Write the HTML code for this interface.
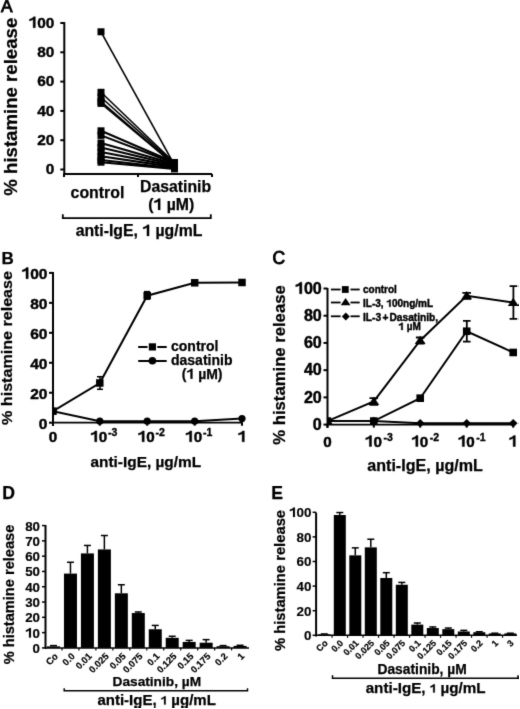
<!DOCTYPE html>
<html><head><meta charset="utf-8"><style>
html,body{margin:0;padding:0;background:#fff;}
svg{display:block;will-change:transform;}
text{font-family:"Liberation Sans", sans-serif;font-weight:bold;}
</style></head><body>
<svg width="520" height="709" viewBox="0 0 520 709" stroke="#000" fill="#000">
<defs><filter id="bl" x="0" y="0" width="1" height="1"><feConvolveMatrix order="3" kernelMatrix="0.01134 0.08382 0.01134 0.08382 0.61935 0.08382 0.01134 0.08382 0.01134" divisor="1" edgeMode="duplicate" preserveAlpha="false"/></filter></defs>
<g filter="url(#bl)">
<text x="1.00" y="12.10" font-size="17.3" text-anchor="start" stroke-width="0.9" style="font-weight:normal">A</text>
<text transform="translate(17.00,106.70) rotate(-90)" x="0" y="0" font-size="18.6" text-anchor="middle" stroke-width="0.25" textLength="178.00" lengthAdjust="spacingAndGlyphs">% histamine release</text>
<line x1="64.30" y1="22.10" x2="64.30" y2="175.00" stroke-width="2"/>
<line x1="60.30" y1="169.50" x2="64.30" y2="169.50" stroke-width="2"/>
<text x="45.84" y="174.30" font-size="15.4" stroke-width="0.4">0</text>
<line x1="60.30" y1="140.20" x2="64.30" y2="140.20" stroke-width="2"/>
<text x="37.28" y="145.00" font-size="15.4" stroke-width="0.4">20</text>
<line x1="60.30" y1="110.90" x2="64.30" y2="110.90" stroke-width="2"/>
<text x="37.28" y="115.70" font-size="15.4" stroke-width="0.4">40</text>
<line x1="60.30" y1="81.60" x2="64.30" y2="81.60" stroke-width="2"/>
<text x="37.28" y="86.40" font-size="15.4" stroke-width="0.4">60</text>
<line x1="60.30" y1="52.30" x2="64.30" y2="52.30" stroke-width="2"/>
<text x="37.28" y="57.10" font-size="15.4" stroke-width="0.4">80</text>
<line x1="60.30" y1="23.00" x2="64.30" y2="23.00" stroke-width="2"/>
<path d="M0.43,0 L0.43,-0.716 L0.318,-0.716 C0.285,-0.645 0.175,-0.58 0.05,-0.558 L0.05,-0.445 C0.14,-0.46 0.225,-0.49 0.288,-0.535 L0.288,0 Z" transform="translate(28.71,27.80) scale(15.4,15.4)" stroke-width="0.0260"/>
<text x="37.28" y="27.80" font-size="15.4" stroke-width="0.4">00</text>
<line x1="63.30" y1="174.00" x2="212.00" y2="174.00" stroke-width="2"/>
<line x1="64.00" y1="174.00" x2="64.00" y2="177.00" stroke-width="2"/>
<line x1="138.00" y1="174.00" x2="138.00" y2="177.00" stroke-width="2"/>
<line x1="212.00" y1="174.00" x2="212.00" y2="177.00" stroke-width="2"/>
<line x1="101.00" y1="31.79" x2="174.50" y2="165.10" stroke-width="1.6"/>
<line x1="101.00" y1="92.29" x2="174.50" y2="162.76" stroke-width="1.6"/>
<line x1="101.00" y1="97.28" x2="174.50" y2="163.64" stroke-width="1.6"/>
<line x1="101.00" y1="101.52" x2="174.50" y2="164.52" stroke-width="1.6"/>
<line x1="101.00" y1="103.43" x2="174.50" y2="164.81" stroke-width="1.6"/>
<line x1="101.00" y1="130.82" x2="174.50" y2="162.47" stroke-width="2.1"/>
<line x1="101.00" y1="135.37" x2="174.50" y2="163.20" stroke-width="2.1"/>
<line x1="101.00" y1="142.98" x2="174.50" y2="164.08" stroke-width="2.1"/>
<line x1="101.00" y1="147.53" x2="174.50" y2="165.10" stroke-width="2.1"/>
<line x1="101.00" y1="151.92" x2="174.50" y2="166.13" stroke-width="2.1"/>
<line x1="101.00" y1="156.31" x2="174.50" y2="167.16" stroke-width="2.1"/>
<line x1="101.00" y1="159.98" x2="174.50" y2="168.18" stroke-width="2.1"/>
<line x1="101.00" y1="162.18" x2="174.50" y2="168.91" stroke-width="2.1"/>
<rect x="97.50" y="28.29" width="7.00" height="7.00" stroke="none"/>
<rect x="97.50" y="88.79" width="7.00" height="7.00" stroke="none"/>
<rect x="97.50" y="93.78" width="7.00" height="7.00" stroke="none"/>
<rect x="97.50" y="98.02" width="7.00" height="7.00" stroke="none"/>
<rect x="97.50" y="99.93" width="7.00" height="7.00" stroke="none"/>
<rect x="97.50" y="127.32" width="7.00" height="7.00" stroke="none"/>
<rect x="97.50" y="131.87" width="7.00" height="7.00" stroke="none"/>
<rect x="97.50" y="139.48" width="7.00" height="7.00" stroke="none"/>
<rect x="97.50" y="144.03" width="7.00" height="7.00" stroke="none"/>
<rect x="97.50" y="148.42" width="7.00" height="7.00" stroke="none"/>
<rect x="97.50" y="152.81" width="7.00" height="7.00" stroke="none"/>
<rect x="97.50" y="156.48" width="7.00" height="7.00" stroke="none"/>
<rect x="97.50" y="158.68" width="7.00" height="7.00" stroke="none"/>
<rect x="171.00" y="161.60" width="7.00" height="7.00" stroke="none"/>
<rect x="171.00" y="159.26" width="7.00" height="7.00" stroke="none"/>
<rect x="171.00" y="160.14" width="7.00" height="7.00" stroke="none"/>
<rect x="171.00" y="161.02" width="7.00" height="7.00" stroke="none"/>
<rect x="171.00" y="161.31" width="7.00" height="7.00" stroke="none"/>
<rect x="171.00" y="158.97" width="7.00" height="7.00" stroke="none"/>
<rect x="171.00" y="159.70" width="7.00" height="7.00" stroke="none"/>
<rect x="171.00" y="160.58" width="7.00" height="7.00" stroke="none"/>
<rect x="171.00" y="161.60" width="7.00" height="7.00" stroke="none"/>
<rect x="171.00" y="162.63" width="7.00" height="7.00" stroke="none"/>
<rect x="171.00" y="163.66" width="7.00" height="7.00" stroke="none"/>
<rect x="171.00" y="164.68" width="7.00" height="7.00" stroke="none"/>
<rect x="171.00" y="165.41" width="7.00" height="7.00" stroke="none"/>
<text x="97.50" y="198.00" font-size="15.9" text-anchor="middle" stroke-width="0.25" >control</text>
<text x="175.60" y="191.90" font-size="15.8" text-anchor="middle" stroke-width="0.25" >Dasatinib</text>
<text x="148.22" y="209.90" stroke-width="0.25"><tspan font-size="15.8">(  µM)</tspan></text>
<path d="M0.43,0 L0.43,-0.716 L0.318,-0.716 C0.285,-0.645 0.175,-0.58 0.05,-0.558 L0.05,-0.445 C0.14,-0.46 0.225,-0.49 0.288,-0.535 L0.288,0 Z" transform="translate(153.48,209.90) scale(15.8)" stroke-width="0.0158"/>
<polyline points="62.80,214.30 62.80,218.10 210.80,218.10 210.80,214.30" fill="none" stroke-width="1.8"/>
<text x="75.63" y="236.00" stroke-width="0.25"><tspan font-size="15.8">anti-IgE,   µg/mL</tspan></text>
<path d="M0.43,0 L0.43,-0.716 L0.318,-0.716 C0.285,-0.645 0.175,-0.58 0.05,-0.558 L0.05,-0.445 C0.14,-0.46 0.225,-0.49 0.288,-0.535 L0.288,0 Z" transform="translate(142.34,236.00) scale(15.8)" stroke-width="0.0158"/>
<text x="1.50" y="264.00" font-size="17" text-anchor="start" stroke-width="0.25" >B</text>
<text transform="translate(11.90,348.00) rotate(-90)" x="0" y="0" font-size="15.4" text-anchor="middle" stroke-width="0.25" textLength="153.90" lengthAdjust="spacingAndGlyphs">% histamine release</text>
<line x1="53.00" y1="272.00" x2="53.00" y2="426.00" stroke-width="2"/>
<line x1="49.00" y1="422.70" x2="53.00" y2="422.70" stroke-width="2"/>
<text x="38.78" y="428.50" font-size="15.5" stroke-width="0.45">0</text>
<line x1="49.00" y1="392.74" x2="53.00" y2="392.74" stroke-width="2"/>
<text x="30.16" y="398.54" font-size="15.5" stroke-width="0.45">20</text>
<line x1="49.00" y1="362.78" x2="53.00" y2="362.78" stroke-width="2"/>
<text x="30.16" y="368.58" font-size="15.5" stroke-width="0.45">40</text>
<line x1="49.00" y1="332.82" x2="53.00" y2="332.82" stroke-width="2"/>
<text x="30.16" y="338.62" font-size="15.5" stroke-width="0.45">60</text>
<line x1="49.00" y1="302.86" x2="53.00" y2="302.86" stroke-width="2"/>
<text x="30.16" y="308.66" font-size="15.5" stroke-width="0.45">80</text>
<line x1="49.00" y1="272.90" x2="53.00" y2="272.90" stroke-width="2"/>
<path d="M0.43,0 L0.43,-0.716 L0.318,-0.716 C0.285,-0.645 0.175,-0.58 0.05,-0.558 L0.05,-0.445 C0.14,-0.46 0.225,-0.49 0.288,-0.535 L0.288,0 Z" transform="translate(21.55,278.70) scale(15.5,15.5)" stroke-width="0.0290"/>
<text x="30.16" y="278.70" font-size="15.5" stroke-width="0.45">00</text>
<line x1="52.00" y1="422.70" x2="242.80" y2="422.70" stroke-width="1.8"/>
<line x1="53.00" y1="422.70" x2="53.00" y2="425.70" stroke-width="2"/>
<line x1="99.80" y1="422.70" x2="99.80" y2="425.70" stroke-width="2"/>
<line x1="147.20" y1="422.70" x2="147.20" y2="425.70" stroke-width="2"/>
<line x1="194.70" y1="422.70" x2="194.70" y2="425.70" stroke-width="2"/>
<line x1="242.00" y1="422.70" x2="242.00" y2="425.70" stroke-width="2"/>
<text x="53.00" y="441.80" font-size="15.2" text-anchor="middle" stroke-width="0.45" >0</text>
<path d="M0.43,0 L0.43,-0.716 L0.318,-0.716 C0.285,-0.645 0.175,-0.58 0.05,-0.558 L0.05,-0.445 C0.14,-0.46 0.225,-0.49 0.288,-0.535 L0.288,0 Z" transform="translate(90.30,441.80) scale(15.2,15.2)" stroke-width="0.0296"/>
<text x="98.75" y="441.80" font-size="15.2" stroke-width="0.45">0</text>
<text x="108.10" y="436.20" font-size="10.5" text-anchor="start" stroke-width="0.35" >-3</text>
<path d="M0.43,0 L0.43,-0.716 L0.318,-0.716 C0.285,-0.645 0.175,-0.58 0.05,-0.558 L0.05,-0.445 C0.14,-0.46 0.225,-0.49 0.288,-0.535 L0.288,0 Z" transform="translate(137.70,441.80) scale(15.2,15.2)" stroke-width="0.0296"/>
<text x="146.15" y="441.80" font-size="15.2" stroke-width="0.45">0</text>
<text x="155.50" y="436.20" font-size="10.5" text-anchor="start" stroke-width="0.35" >-2</text>
<path d="M0.43,0 L0.43,-0.716 L0.318,-0.716 C0.285,-0.645 0.175,-0.58 0.05,-0.558 L0.05,-0.445 C0.14,-0.46 0.225,-0.49 0.288,-0.535 L0.288,0 Z" transform="translate(185.20,441.80) scale(15.2,15.2)" stroke-width="0.0296"/>
<text x="193.65" y="441.80" font-size="15.2" stroke-width="0.45">0</text>
<text x="203.00" y="436.20" font-size="10.5" text-anchor="start" stroke-width="0.35" >-1</text>
<path d="M0.43,0 L0.43,-0.716 L0.318,-0.716 C0.285,-0.645 0.175,-0.58 0.05,-0.558 L0.05,-0.445 C0.14,-0.46 0.225,-0.49 0.288,-0.535 L0.288,0 Z" transform="translate(237.77,441.80) scale(15.2,15.2)" stroke-width="0.0296"/>
<clipPath id="clipB"><rect x="53" y="250" width="200" height="200"/></clipPath>
<g clip-path="url(#clipB)">
<polyline points="53.00,411.17 99.80,383.00 147.20,295.67 194.70,282.79 242.00,282.49" fill="none" stroke-width="2"/>
<polyline points="53.00,411.17 99.80,421.20 147.20,421.20 194.70,421.20 242.00,418.51" fill="none" stroke-width="2"/>
<line x1="100.00" y1="376.71" x2="100.00" y2="389.29" stroke-width="1.5"/>
<line x1="97.00" y1="376.71" x2="103.00" y2="376.71" stroke-width="1.5"/>
<line x1="97.00" y1="389.29" x2="103.00" y2="389.29" stroke-width="1.5"/>
<line x1="147.00" y1="291.62" x2="147.00" y2="299.12" stroke-width="1.5"/>
<line x1="144.00" y1="291.62" x2="150.00" y2="291.62" stroke-width="1.5"/>
<line x1="144.00" y1="299.12" x2="150.00" y2="299.12" stroke-width="1.5"/>
<rect x="49.25" y="407.42" width="7.50" height="7.50" stroke="none"/>
<rect x="96.05" y="379.25" width="7.50" height="7.50" stroke="none"/>
<rect x="143.45" y="291.92" width="7.50" height="7.50" stroke="none"/>
<rect x="190.95" y="279.04" width="7.50" height="7.50" stroke="none"/>
<rect x="238.25" y="278.74" width="7.50" height="7.50" stroke="none"/>
<circle cx="53.00" cy="411.17" r="3.6" stroke="none"/>
<circle cx="99.80" cy="421.20" r="3.6" stroke="none"/>
<circle cx="147.20" cy="421.20" r="3.6" stroke="none"/>
<circle cx="194.70" cy="421.20" r="3.6" stroke="none"/>
<circle cx="242.00" cy="418.51" r="3.6" stroke="none"/>
</g>
<line x1="138.20" y1="347.00" x2="147.50" y2="347.00" stroke-width="2"/>
<line x1="157.30" y1="347.00" x2="166.70" y2="347.00" stroke-width="2"/>
<rect x="148.80" y="343.30" width="7.20" height="7.20" stroke="none"/>
<line x1="138.20" y1="361.00" x2="166.70" y2="361.00" stroke-width="2"/>
<circle cx="152.40" cy="360.80" r="3.8" stroke="none"/>
<text x="171.00" y="350.70" font-size="14.0" text-anchor="start" stroke-width="0.25" >control</text>
<text x="171.00" y="365.30" font-size="14.0" text-anchor="start" stroke-width="0.25" >dasatinib</text>
<text x="181.80" y="378.80" stroke-width="0.25"><tspan font-size="14.0">(  µM)</tspan></text>
<path d="M0.43,0 L0.43,-0.716 L0.318,-0.716 C0.285,-0.645 0.175,-0.58 0.05,-0.558 L0.05,-0.445 C0.14,-0.46 0.225,-0.49 0.288,-0.535 L0.288,0 Z" transform="translate(186.46,378.80) scale(14.0)" stroke-width="0.0179"/>
<text x="145.80" y="466.60" font-size="15.4" text-anchor="middle" stroke-width="0.25" >anti-IgE, µg/mL</text>
<text x="272.60" y="263.70" font-size="17.5" text-anchor="start" stroke-width="0.9" style="font-weight:normal">C</text>
<text transform="translate(284.80,365.00) rotate(-90)" x="0" y="0" font-size="16.3" text-anchor="middle" stroke-width="0.25" textLength="159.40" lengthAdjust="spacingAndGlyphs">% histamine release</text>
<line x1="327.50" y1="288.00" x2="327.50" y2="428.00" stroke-width="2"/>
<line x1="323.50" y1="424.60" x2="327.50" y2="424.60" stroke-width="2"/>
<text x="312.85" y="429.90" font-size="16.1" stroke-width="0.45">0</text>
<line x1="323.50" y1="397.38" x2="327.50" y2="397.38" stroke-width="2"/>
<text x="303.90" y="402.68" font-size="16.1" stroke-width="0.45">20</text>
<line x1="323.50" y1="370.16" x2="327.50" y2="370.16" stroke-width="2"/>
<text x="303.90" y="375.46" font-size="16.1" stroke-width="0.45">40</text>
<line x1="323.50" y1="342.94" x2="327.50" y2="342.94" stroke-width="2"/>
<text x="303.90" y="348.24" font-size="16.1" stroke-width="0.45">60</text>
<line x1="323.50" y1="315.72" x2="327.50" y2="315.72" stroke-width="2"/>
<text x="303.90" y="321.02" font-size="16.1" stroke-width="0.45">80</text>
<line x1="323.50" y1="288.50" x2="327.50" y2="288.50" stroke-width="2"/>
<path d="M0.43,0 L0.43,-0.716 L0.318,-0.716 C0.285,-0.645 0.175,-0.58 0.05,-0.558 L0.05,-0.445 C0.14,-0.46 0.225,-0.49 0.288,-0.535 L0.288,0 Z" transform="translate(294.95,293.80) scale(16.1,16.1)" stroke-width="0.0280"/>
<text x="303.90" y="293.80" font-size="16.1" stroke-width="0.45">00</text>
<line x1="326.50" y1="424.60" x2="514.20" y2="424.60" stroke-width="1.7"/>
<line x1="327.40" y1="424.60" x2="327.40" y2="427.60" stroke-width="2"/>
<line x1="373.80" y1="424.60" x2="373.80" y2="427.60" stroke-width="2"/>
<line x1="420.20" y1="424.60" x2="420.20" y2="427.60" stroke-width="2"/>
<line x1="466.70" y1="424.60" x2="466.70" y2="427.60" stroke-width="2"/>
<line x1="513.20" y1="424.60" x2="513.20" y2="427.60" stroke-width="2"/>
<text x="327.50" y="446.50" font-size="15.2" text-anchor="middle" stroke-width="0.45" >0</text>
<path d="M0.43,0 L0.43,-0.716 L0.318,-0.716 C0.285,-0.645 0.175,-0.58 0.05,-0.558 L0.05,-0.445 C0.14,-0.46 0.225,-0.49 0.288,-0.535 L0.288,0 Z" transform="translate(365.00,446.50) scale(15.2,15.2)" stroke-width="0.0296"/>
<text x="373.45" y="446.50" font-size="15.2" stroke-width="0.45">0</text>
<text x="383.40" y="440.50" font-size="10.5" text-anchor="start" stroke-width="0.35" >-3</text>
<path d="M0.43,0 L0.43,-0.716 L0.318,-0.716 C0.285,-0.645 0.175,-0.58 0.05,-0.558 L0.05,-0.445 C0.14,-0.46 0.225,-0.49 0.288,-0.535 L0.288,0 Z" transform="translate(411.40,446.50) scale(15.2,15.2)" stroke-width="0.0296"/>
<text x="419.85" y="446.50" font-size="15.2" stroke-width="0.45">0</text>
<text x="429.80" y="440.50" font-size="10.5" text-anchor="start" stroke-width="0.35" >-2</text>
<path d="M0.43,0 L0.43,-0.716 L0.318,-0.716 C0.285,-0.645 0.175,-0.58 0.05,-0.558 L0.05,-0.445 C0.14,-0.46 0.225,-0.49 0.288,-0.535 L0.288,0 Z" transform="translate(457.90,446.50) scale(15.2,15.2)" stroke-width="0.0296"/>
<text x="466.35" y="446.50" font-size="15.2" stroke-width="0.45">0</text>
<text x="476.30" y="440.50" font-size="10.5" text-anchor="start" stroke-width="0.35" >-1</text>
<path d="M0.43,0 L0.43,-0.716 L0.318,-0.716 C0.285,-0.645 0.175,-0.58 0.05,-0.558 L0.05,-0.445 C0.14,-0.46 0.225,-0.49 0.288,-0.535 L0.288,0 Z" transform="translate(508.77,446.50) scale(15.2,15.2)" stroke-width="0.0296"/>
<clipPath id="clipC"><rect x="327.5" y="250" width="200" height="200"/></clipPath>
<g clip-path="url(#clipC)">
<polyline points="327.40,421.06 373.80,421.06 420.20,423.24 466.70,423.24 513.20,423.24" fill="none" stroke-width="2"/>
<polyline points="327.40,421.06 373.80,421.06 420.20,398.20 466.70,331.24 513.20,352.47" fill="none" stroke-width="2"/>
<polyline points="327.40,421.06 373.80,401.46 420.20,340.49 466.70,295.85 513.20,302.52" fill="none" stroke-width="2"/>
<line x1="466.80" y1="320.89" x2="466.80" y2="341.58" stroke-width="1.8"/>
<line x1="463.00" y1="320.89" x2="470.60" y2="320.89" stroke-width="1.8"/>
<line x1="463.00" y1="341.58" x2="470.60" y2="341.58" stroke-width="1.8"/>
<line x1="513.40" y1="286.19" x2="513.40" y2="318.85" stroke-width="1.8"/>
<line x1="509.60" y1="286.19" x2="517.20" y2="286.19" stroke-width="1.8"/>
<line x1="509.60" y1="318.85" x2="517.20" y2="318.85" stroke-width="1.8"/>
<line x1="373.80" y1="398.20" x2="373.80" y2="404.73" stroke-width="1.8"/>
<line x1="369.50" y1="398.20" x2="378.10" y2="398.20" stroke-width="1.8"/>
<line x1="369.50" y1="404.73" x2="378.10" y2="404.73" stroke-width="1.8"/>
<line x1="420.20" y1="337.50" x2="420.20" y2="343.48" stroke-width="1.8"/>
<line x1="415.90" y1="337.50" x2="424.50" y2="337.50" stroke-width="1.8"/>
<line x1="415.90" y1="343.48" x2="424.50" y2="343.48" stroke-width="1.8"/>
<line x1="466.70" y1="292.86" x2="466.70" y2="298.84" stroke-width="1.8"/>
<line x1="462.40" y1="292.86" x2="471.00" y2="292.86" stroke-width="1.8"/>
<line x1="462.40" y1="298.84" x2="471.00" y2="298.84" stroke-width="1.8"/>
<polygon points="327.40,416.76 331.70,421.06 327.40,425.36 323.10,421.06" stroke="none"/>
<polygon points="373.80,416.76 378.10,421.06 373.80,425.36 369.50,421.06" stroke="none"/>
<polygon points="420.20,418.94 424.50,423.24 420.20,427.54 415.90,423.24" stroke="none"/>
<polygon points="466.70,418.94 471.00,423.24 466.70,427.54 462.40,423.24" stroke="none"/>
<polygon points="513.20,418.94 517.50,423.24 513.20,427.54 508.90,423.24" stroke="none"/>
<rect x="323.60" y="417.26" width="7.60" height="7.60" stroke="none"/>
<rect x="370.00" y="417.26" width="7.60" height="7.60" stroke="none"/>
<rect x="416.40" y="394.40" width="7.60" height="7.60" stroke="none"/>
<rect x="462.90" y="327.44" width="7.60" height="7.60" stroke="none"/>
<rect x="509.40" y="348.67" width="7.60" height="7.60" stroke="none"/>
<polygon points="327.40,416.30 332.80,424.51 322.00,424.51" stroke="none"/>
<polygon points="373.80,396.70 379.20,404.91 368.40,404.91" stroke="none"/>
<polygon points="420.20,335.73 425.60,343.94 414.80,343.94" stroke="none"/>
<polygon points="466.70,291.09 472.10,299.30 461.30,299.30" stroke="none"/>
<polygon points="513.20,297.76 518.60,305.97 507.80,305.97" stroke="none"/>
</g>
<line x1="330.90" y1="289.50" x2="340.60" y2="289.50" stroke-width="1.8"/>
<line x1="350.50" y1="289.50" x2="359.70" y2="289.50" stroke-width="1.8"/>
<line x1="330.90" y1="302.50" x2="340.60" y2="302.50" stroke-width="1.8"/>
<line x1="350.50" y1="302.50" x2="359.70" y2="302.50" stroke-width="1.8"/>
<line x1="330.90" y1="316.30" x2="340.60" y2="316.30" stroke-width="1.8"/>
<line x1="350.50" y1="316.30" x2="359.70" y2="316.30" stroke-width="1.8"/>
<rect x="341.90" y="286.10" width="6.80" height="6.80" stroke="none"/>
<polygon points="345.60,297.88 350.50,305.33 340.70,305.33" stroke="none"/>
<polygon points="345.80,312.40 349.80,316.40 345.80,320.40 341.80,316.40" stroke="none"/>
<text x="363.00" y="292.80" font-size="10" text-anchor="start" stroke-width="0.4" >control</text>
<text x="363.00" y="306.80" stroke-width="0.4"><tspan font-size="10">IL-3,  00ng/mL</tspan></text>
<path d="M0.43,0 L0.43,-0.716 L0.318,-0.716 C0.285,-0.645 0.175,-0.58 0.05,-0.558 L0.05,-0.445 C0.14,-0.46 0.225,-0.49 0.288,-0.535 L0.288,0 Z" transform="translate(386.33,306.80) scale(10)" stroke-width="0.0400"/>
<text x="363.00" y="320.60" font-size="10.2" text-anchor="start" stroke-width="0.4" >IL-3<tspan dx="1.3">+</tspan><tspan dx="1.1">Dasatinib,</tspan></text>
<text x="398.40" y="330.00" stroke-width="0.4"><tspan font-size="10">  µM</tspan></text>
<path d="M0.43,0 L0.43,-0.716 L0.318,-0.716 C0.285,-0.645 0.175,-0.58 0.05,-0.558 L0.05,-0.445 C0.14,-0.46 0.225,-0.49 0.288,-0.535 L0.288,0 Z" transform="translate(398.40,330.00) scale(10)" stroke-width="0.0400"/>
<text x="425.10" y="470.60" font-size="16.1" text-anchor="middle" stroke-width="0.25" >anti-IgE, µg/mL</text>
<text x="2.30" y="498.60" font-size="17.6" text-anchor="start" stroke-width="0.25" >D</text>
<text transform="translate(13.90,594.50) rotate(-90)" x="0" y="0" font-size="14.6" text-anchor="middle" stroke-width="0.25" textLength="139.70" lengthAdjust="spacingAndGlyphs">% histamine release</text>
<line x1="45.50" y1="525.00" x2="45.50" y2="649.00" stroke-width="2"/>
<line x1="42.00" y1="647.90" x2="45.50" y2="647.90" stroke-width="1.5"/>
<text x="32.61" y="652.90" font-size="13.3" stroke-width="0.2">0</text>
<line x1="42.00" y1="632.61" x2="45.50" y2="632.61" stroke-width="1.5"/>
<path d="M0.43,0 L0.43,-0.716 L0.318,-0.716 C0.285,-0.645 0.175,-0.58 0.05,-0.558 L0.05,-0.445 C0.14,-0.46 0.225,-0.49 0.288,-0.535 L0.288,0 Z" transform="translate(25.21,637.61) scale(13.3,13.3)" stroke-width="0.0150"/>
<text x="32.61" y="637.61" font-size="13.3" stroke-width="0.2">0</text>
<line x1="42.00" y1="617.32" x2="45.50" y2="617.32" stroke-width="1.5"/>
<text x="25.21" y="622.32" font-size="13.3" stroke-width="0.2">20</text>
<line x1="42.00" y1="602.03" x2="45.50" y2="602.03" stroke-width="1.5"/>
<text x="25.21" y="607.03" font-size="13.3" stroke-width="0.2">30</text>
<line x1="42.00" y1="586.74" x2="45.50" y2="586.74" stroke-width="1.5"/>
<text x="25.21" y="591.74" font-size="13.3" stroke-width="0.2">40</text>
<line x1="42.00" y1="571.45" x2="45.50" y2="571.45" stroke-width="1.5"/>
<text x="25.21" y="576.45" font-size="13.3" stroke-width="0.2">50</text>
<line x1="42.00" y1="556.16" x2="45.50" y2="556.16" stroke-width="1.5"/>
<text x="25.21" y="561.16" font-size="13.3" stroke-width="0.2">60</text>
<line x1="42.00" y1="540.87" x2="45.50" y2="540.87" stroke-width="1.5"/>
<text x="25.21" y="545.87" font-size="13.3" stroke-width="0.2">70</text>
<line x1="42.00" y1="525.58" x2="45.50" y2="525.58" stroke-width="1.5"/>
<text x="25.21" y="530.58" font-size="13.3" stroke-width="0.2">80</text>
<line x1="45.50" y1="647.90" x2="249.00" y2="647.90" stroke-width="1.5"/>
<rect x="47.00" y="646.37" width="13.00" height="1.53" stroke="none"/>
<line x1="53.50" y1="645.61" x2="53.50" y2="646.37" stroke-width="1.5"/>
<line x1="50.00" y1="645.61" x2="57.00" y2="645.61" stroke-width="1.5"/>
<text transform="translate(58.50,656.90) rotate(-45)" font-size="9.4" text-anchor="end" stroke-width="0.2" style="font-weight:bold">Co</text>
<line x1="61.98" y1="647.90" x2="61.98" y2="650.40" stroke-width="1.2"/>
<rect x="63.96" y="573.59" width="13.00" height="74.31" stroke="none"/>
<line x1="70.46" y1="562.28" x2="70.46" y2="573.59" stroke-width="1.5"/>
<line x1="66.96" y1="562.28" x2="73.96" y2="562.28" stroke-width="1.5"/>
<text transform="translate(75.46,656.90) rotate(-45)" font-size="9.4" text-anchor="end" stroke-width="0.2" style="font-weight:bold">0.0</text>
<line x1="78.94" y1="647.90" x2="78.94" y2="650.40" stroke-width="1.2"/>
<rect x="80.92" y="553.41" width="13.00" height="94.49" stroke="none"/>
<line x1="87.42" y1="545.46" x2="87.42" y2="553.41" stroke-width="1.5"/>
<line x1="83.92" y1="545.46" x2="90.92" y2="545.46" stroke-width="1.5"/>
<text transform="translate(92.42,656.90) rotate(-45)" font-size="9.4" text-anchor="end" stroke-width="0.2" style="font-weight:bold">0.01</text>
<line x1="95.90" y1="647.90" x2="95.90" y2="650.40" stroke-width="1.2"/>
<rect x="97.88" y="549.43" width="13.00" height="98.47" stroke="none"/>
<line x1="104.38" y1="535.52" x2="104.38" y2="549.43" stroke-width="1.5"/>
<line x1="100.88" y1="535.52" x2="107.88" y2="535.52" stroke-width="1.5"/>
<text transform="translate(109.38,656.90) rotate(-45)" font-size="9.4" text-anchor="end" stroke-width="0.2" style="font-weight:bold">0.025</text>
<line x1="112.86" y1="647.90" x2="112.86" y2="650.40" stroke-width="1.2"/>
<rect x="114.84" y="593.31" width="13.00" height="54.59" stroke="none"/>
<line x1="121.34" y1="584.75" x2="121.34" y2="593.31" stroke-width="1.5"/>
<line x1="117.84" y1="584.75" x2="124.84" y2="584.75" stroke-width="1.5"/>
<text transform="translate(126.34,656.90) rotate(-45)" font-size="9.4" text-anchor="end" stroke-width="0.2" style="font-weight:bold">0.05</text>
<line x1="129.82" y1="647.90" x2="129.82" y2="650.40" stroke-width="1.2"/>
<rect x="131.80" y="613.04" width="13.00" height="34.86" stroke="none"/>
<line x1="138.30" y1="611.97" x2="138.30" y2="613.04" stroke-width="1.5"/>
<line x1="134.80" y1="611.97" x2="141.80" y2="611.97" stroke-width="1.5"/>
<text transform="translate(143.30,656.90) rotate(-45)" font-size="9.4" text-anchor="end" stroke-width="0.2" style="font-weight:bold">0.075</text>
<line x1="146.78" y1="647.90" x2="146.78" y2="650.40" stroke-width="1.2"/>
<rect x="148.76" y="629.25" width="13.00" height="18.65" stroke="none"/>
<line x1="155.26" y1="625.42" x2="155.26" y2="629.25" stroke-width="1.5"/>
<line x1="151.76" y1="625.42" x2="158.76" y2="625.42" stroke-width="1.5"/>
<text transform="translate(160.26,656.90) rotate(-45)" font-size="9.4" text-anchor="end" stroke-width="0.2" style="font-weight:bold">0.1</text>
<line x1="163.74" y1="647.90" x2="163.74" y2="650.40" stroke-width="1.2"/>
<rect x="165.72" y="637.81" width="13.00" height="10.09" stroke="none"/>
<line x1="172.22" y1="636.28" x2="172.22" y2="637.81" stroke-width="1.5"/>
<line x1="168.72" y1="636.28" x2="175.72" y2="636.28" stroke-width="1.5"/>
<text transform="translate(177.22,656.90) rotate(-45)" font-size="9.4" text-anchor="end" stroke-width="0.2" style="font-weight:bold">0.125</text>
<line x1="180.70" y1="647.90" x2="180.70" y2="650.40" stroke-width="1.2"/>
<rect x="182.68" y="641.94" width="13.00" height="5.96" stroke="none"/>
<line x1="189.18" y1="640.41" x2="189.18" y2="641.94" stroke-width="1.5"/>
<line x1="185.68" y1="640.41" x2="192.68" y2="640.41" stroke-width="1.5"/>
<text transform="translate(194.18,656.90) rotate(-45)" font-size="9.4" text-anchor="end" stroke-width="0.2" style="font-weight:bold">0.15</text>
<line x1="197.66" y1="647.90" x2="197.66" y2="650.40" stroke-width="1.2"/>
<rect x="199.64" y="642.70" width="13.00" height="5.20" stroke="none"/>
<line x1="206.14" y1="639.64" x2="206.14" y2="642.70" stroke-width="1.5"/>
<line x1="202.64" y1="639.64" x2="209.64" y2="639.64" stroke-width="1.5"/>
<text transform="translate(211.14,656.90) rotate(-45)" font-size="9.4" text-anchor="end" stroke-width="0.2" style="font-weight:bold">0.175</text>
<line x1="214.62" y1="647.90" x2="214.62" y2="650.40" stroke-width="1.2"/>
<rect x="216.60" y="646.22" width="13.00" height="1.68" stroke="none"/>
<line x1="223.10" y1="645.61" x2="223.10" y2="646.22" stroke-width="1.5"/>
<line x1="219.60" y1="645.61" x2="226.60" y2="645.61" stroke-width="1.5"/>
<text transform="translate(228.10,656.90) rotate(-45)" font-size="9.4" text-anchor="end" stroke-width="0.2" style="font-weight:bold">0.2</text>
<line x1="231.58" y1="647.90" x2="231.58" y2="650.40" stroke-width="1.2"/>
<rect x="233.56" y="645.91" width="13.00" height="1.99" stroke="none"/>
<line x1="240.06" y1="645.30" x2="240.06" y2="645.91" stroke-width="1.5"/>
<line x1="236.56" y1="645.30" x2="243.56" y2="645.30" stroke-width="1.5"/>
<text transform="translate(245.06,656.90) rotate(-45)" font-size="9.4" text-anchor="end" stroke-width="0.2" style="font-weight:bold">1</text>
<polyline points="64.20,688.30 64.20,690.80 247.50,690.80 247.50,688.30" fill="none" stroke-width="1.5"/>
<text x="156.80" y="686.00" font-size="13.7" text-anchor="middle" stroke-width="0.25" >Dasatinib, µM</text>
<text x="97.42" y="704.50" stroke-width="0.25"><tspan font-size="15">anti-IgE, </tspan><tspan font-size="11.5"> </tspan><tspan font-size="15"> µg/mL</tspan></text>
<path d="M0.43,0 L0.43,-0.716 L0.318,-0.716 C0.285,-0.645 0.175,-0.58 0.05,-0.558 L0.05,-0.445 C0.14,-0.46 0.225,-0.49 0.288,-0.535 L0.288,0 Z" transform="translate(160.75,704.50) scale(11.5)" stroke-width="0.0217"/>
<text x="271.30" y="498.80" font-size="17.6" text-anchor="start" stroke-width="0.25" >E</text>
<text transform="translate(284.90,580.50) rotate(-90)" x="0" y="0" font-size="14.7" text-anchor="middle" stroke-width="0.25" textLength="141.10" lengthAdjust="spacingAndGlyphs">% histamine release</text>
<line x1="316.10" y1="512.50" x2="316.10" y2="636.50" stroke-width="2"/>
<line x1="312.60" y1="635.30" x2="316.10" y2="635.30" stroke-width="1.5"/>
<text x="304.05" y="640.10" font-size="13.4" stroke-width="0.15">0</text>
<line x1="312.60" y1="610.70" x2="316.10" y2="610.70" stroke-width="1.5"/>
<text x="296.60" y="615.50" font-size="13.4" stroke-width="0.15">20</text>
<line x1="312.60" y1="586.10" x2="316.10" y2="586.10" stroke-width="1.5"/>
<text x="296.60" y="590.90" font-size="13.4" stroke-width="0.15">40</text>
<line x1="312.60" y1="561.50" x2="316.10" y2="561.50" stroke-width="1.5"/>
<text x="296.60" y="566.30" font-size="13.4" stroke-width="0.15">60</text>
<line x1="312.60" y1="536.90" x2="316.10" y2="536.90" stroke-width="1.5"/>
<text x="296.60" y="541.70" font-size="13.4" stroke-width="0.15">80</text>
<line x1="312.60" y1="512.30" x2="316.10" y2="512.30" stroke-width="1.5"/>
<path d="M0.43,0 L0.43,-0.716 L0.318,-0.716 C0.285,-0.645 0.175,-0.58 0.05,-0.558 L0.05,-0.445 C0.14,-0.46 0.225,-0.49 0.288,-0.535 L0.288,0 Z" transform="translate(289.15,517.10) scale(13.4,13.4)" stroke-width="0.0112"/>
<text x="296.60" y="517.10" font-size="13.4" stroke-width="0.15">00</text>
<line x1="316.10" y1="635.30" x2="517.00" y2="635.30" stroke-width="1.5"/>
<rect x="318.30" y="634.32" width="12.00" height="0.98" stroke="none"/>
<line x1="324.30" y1="633.95" x2="324.30" y2="634.32" stroke-width="1.5"/>
<line x1="320.80" y1="633.95" x2="327.80" y2="633.95" stroke-width="1.5"/>
<text transform="translate(328.30,643.70) rotate(-45)" font-size="9.0" text-anchor="end" stroke-width="0.2" style="font-weight:bold">Co</text>
<line x1="332.05" y1="635.30" x2="332.05" y2="637.80" stroke-width="1.2"/>
<rect x="333.80" y="515.01" width="12.00" height="120.29" stroke="none"/>
<line x1="339.80" y1="512.55" x2="339.80" y2="515.01" stroke-width="1.5"/>
<line x1="336.30" y1="512.55" x2="343.30" y2="512.55" stroke-width="1.5"/>
<text transform="translate(343.80,643.70) rotate(-45)" font-size="9.0" text-anchor="end" stroke-width="0.2" style="font-weight:bold">0.0</text>
<line x1="347.55" y1="635.30" x2="347.55" y2="637.80" stroke-width="1.2"/>
<rect x="349.30" y="555.35" width="12.00" height="79.95" stroke="none"/>
<line x1="355.30" y1="547.85" x2="355.30" y2="555.35" stroke-width="1.5"/>
<line x1="351.80" y1="547.85" x2="358.80" y2="547.85" stroke-width="1.5"/>
<text transform="translate(359.30,643.70) rotate(-45)" font-size="9.0" text-anchor="end" stroke-width="0.2" style="font-weight:bold">0.01</text>
<line x1="363.05" y1="635.30" x2="363.05" y2="637.80" stroke-width="1.2"/>
<rect x="364.80" y="547.36" width="12.00" height="87.94" stroke="none"/>
<line x1="370.80" y1="539.24" x2="370.80" y2="547.36" stroke-width="1.5"/>
<line x1="367.30" y1="539.24" x2="374.30" y2="539.24" stroke-width="1.5"/>
<text transform="translate(374.80,643.70) rotate(-45)" font-size="9.0" text-anchor="end" stroke-width="0.2" style="font-weight:bold">0.025</text>
<line x1="378.55" y1="635.30" x2="378.55" y2="637.80" stroke-width="1.2"/>
<rect x="380.30" y="577.98" width="12.00" height="57.32" stroke="none"/>
<line x1="386.30" y1="572.69" x2="386.30" y2="577.98" stroke-width="1.5"/>
<line x1="382.80" y1="572.69" x2="389.80" y2="572.69" stroke-width="1.5"/>
<text transform="translate(390.30,643.70) rotate(-45)" font-size="9.0" text-anchor="end" stroke-width="0.2" style="font-weight:bold">0.05</text>
<line x1="394.05" y1="635.30" x2="394.05" y2="637.80" stroke-width="1.2"/>
<rect x="395.80" y="584.75" width="12.00" height="50.55" stroke="none"/>
<line x1="401.80" y1="582.41" x2="401.80" y2="584.75" stroke-width="1.5"/>
<line x1="398.30" y1="582.41" x2="405.30" y2="582.41" stroke-width="1.5"/>
<text transform="translate(405.80,643.70) rotate(-45)" font-size="9.0" text-anchor="end" stroke-width="0.2" style="font-weight:bold">0.075</text>
<line x1="409.55" y1="635.30" x2="409.55" y2="637.80" stroke-width="1.2"/>
<rect x="411.30" y="624.60" width="12.00" height="10.70" stroke="none"/>
<line x1="417.30" y1="623.00" x2="417.30" y2="624.60" stroke-width="1.5"/>
<line x1="413.80" y1="623.00" x2="420.80" y2="623.00" stroke-width="1.5"/>
<text transform="translate(421.30,643.70) rotate(-45)" font-size="9.0" text-anchor="end" stroke-width="0.2" style="font-weight:bold">0.1</text>
<line x1="425.05" y1="635.30" x2="425.05" y2="637.80" stroke-width="1.2"/>
<rect x="426.80" y="628.04" width="12.00" height="7.26" stroke="none"/>
<line x1="432.80" y1="626.94" x2="432.80" y2="628.04" stroke-width="1.5"/>
<line x1="429.30" y1="626.94" x2="436.30" y2="626.94" stroke-width="1.5"/>
<text transform="translate(436.80,643.70) rotate(-45)" font-size="9.0" text-anchor="end" stroke-width="0.2" style="font-weight:bold">0.125</text>
<line x1="440.55" y1="635.30" x2="440.55" y2="637.80" stroke-width="1.2"/>
<rect x="442.30" y="629.15" width="12.00" height="6.15" stroke="none"/>
<line x1="448.30" y1="628.04" x2="448.30" y2="629.15" stroke-width="1.5"/>
<line x1="444.80" y1="628.04" x2="451.80" y2="628.04" stroke-width="1.5"/>
<text transform="translate(452.30,643.70) rotate(-45)" font-size="9.0" text-anchor="end" stroke-width="0.2" style="font-weight:bold">0.15</text>
<line x1="456.05" y1="635.30" x2="456.05" y2="637.80" stroke-width="1.2"/>
<rect x="457.80" y="631.49" width="12.00" height="3.81" stroke="none"/>
<line x1="463.80" y1="630.38" x2="463.80" y2="631.49" stroke-width="1.5"/>
<line x1="460.30" y1="630.38" x2="467.30" y2="630.38" stroke-width="1.5"/>
<text transform="translate(467.80,643.70) rotate(-45)" font-size="9.0" text-anchor="end" stroke-width="0.2" style="font-weight:bold">0.175</text>
<line x1="471.55" y1="635.30" x2="471.55" y2="637.80" stroke-width="1.2"/>
<rect x="473.30" y="632.22" width="12.00" height="3.08" stroke="none"/>
<line x1="479.30" y1="631.73" x2="479.30" y2="632.22" stroke-width="1.5"/>
<line x1="475.80" y1="631.73" x2="482.80" y2="631.73" stroke-width="1.5"/>
<text transform="translate(483.30,643.70) rotate(-45)" font-size="9.0" text-anchor="end" stroke-width="0.2" style="font-weight:bold">0.2</text>
<line x1="487.05" y1="635.30" x2="487.05" y2="637.80" stroke-width="1.2"/>
<rect x="488.80" y="633.45" width="12.00" height="1.85" stroke="none"/>
<line x1="494.80" y1="633.21" x2="494.80" y2="633.45" stroke-width="1.5"/>
<line x1="491.30" y1="633.21" x2="498.30" y2="633.21" stroke-width="1.5"/>
<text transform="translate(498.80,643.70) rotate(-45)" font-size="9.0" text-anchor="end" stroke-width="0.2" style="font-weight:bold">1</text>
<line x1="502.55" y1="635.30" x2="502.55" y2="637.80" stroke-width="1.2"/>
<rect x="504.30" y="633.45" width="12.00" height="1.85" stroke="none"/>
<line x1="510.30" y1="633.21" x2="510.30" y2="633.45" stroke-width="1.5"/>
<line x1="506.80" y1="633.21" x2="513.80" y2="633.21" stroke-width="1.5"/>
<text transform="translate(514.30,643.70) rotate(-45)" font-size="9.0" text-anchor="end" stroke-width="0.2" style="font-weight:bold">3</text>
<polyline points="332.50,675.30 332.50,678.20 518.00,678.20 518.00,675.30" fill="none" stroke-width="1.5"/>
<text x="422.10" y="673.80" font-size="13.8" text-anchor="middle" stroke-width="0.25" >Dasatinib, µM</text>
<text x="365.67" y="692.60" stroke-width="0.25"><tspan font-size="15.2">anti-IgE, </tspan><tspan font-size="11.5"> </tspan><tspan font-size="15.2"> µg/mL</tspan></text>
<path d="M0.43,0 L0.43,-0.716 L0.318,-0.716 C0.285,-0.645 0.175,-0.58 0.05,-0.558 L0.05,-0.445 C0.14,-0.46 0.225,-0.49 0.288,-0.535 L0.288,0 Z" transform="translate(429.85,692.60) scale(11.5)" stroke-width="0.0217"/>
</g>
</svg>
</body></html>
